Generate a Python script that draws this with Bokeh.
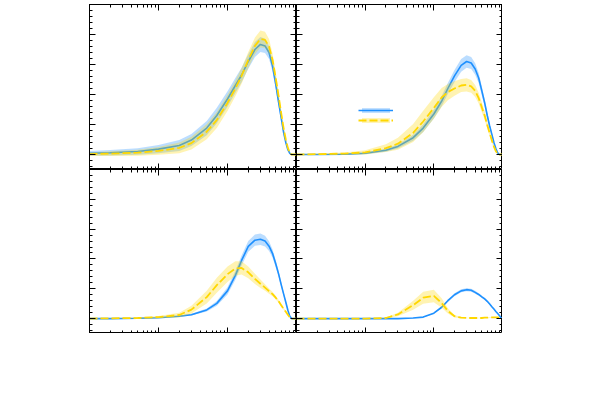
import numpy as np
from bokeh.plotting import figure
from bokeh.layouts import gridplot
from bokeh.models import FixedTicker, LogAxis, LinearAxis, Legend, LegendItem, Range1d
from bokeh.embed import file_html
from bokeh.resources import INLINE

# ---------------- data ----------------
x = [0.001, 0.002, 0.005, 0.01, 0.02, 0.03, 0.05, 0.07, 0.1, 0.13, 0.16, 0.2, 0.25,
     0.3, 0.35, 0.4, 0.45, 0.5, 0.55, 0.6, 0.65, 0.7, 0.75, 0.8, 0.85, 0.9, 0.95, 1.0]

tl_blue = [0.04, 0.06, 0.1, 0.18, 0.3, 0.48, 0.88, 1.3, 1.85, 2.3, 2.65, 3.1, 3.5,
           3.67, 3.62, 3.4, 2.95, 2.35, 1.75, 1.22, 0.74, 0.4, 0.16, 0.04, 0.0, 0.0, 0.0, 0.0]
tl_blue_err = [0.08, 0.09, 0.11, 0.14, 0.18, 0.2, 0.24, 0.26, 0.26, 0.25, 0.24, 0.24, 0.25,
               0.25, 0.24, 0.22, 0.2, 0.17, 0.14, 0.11, 0.08, 0.06, 0.04, 0.02, 0.01, 0.0, 0.0, 0.0]
tl_yellow = [0.01, 0.03, 0.06, 0.12, 0.22, 0.38, 0.76, 1.15, 1.72, 2.2, 2.62, 3.15, 3.62,
             3.85, 3.82, 3.6, 3.15, 2.55, 1.95, 1.38, 0.88, 0.5, 0.22, 0.06, 0.0, 0.0, 0.0, 0.0]
tl_yellow_err = [0.06, 0.08, 0.1, 0.13, 0.18, 0.21, 0.25, 0.27, 0.27, 0.26, 0.26, 0.27, 0.28,
                 0.28, 0.27, 0.25, 0.22, 0.19, 0.15, 0.12, 0.09, 0.06, 0.04, 0.02, 0.01, 0.0, 0.0, 0.0]

tr_blue = [0.0, 0.0, 0.01, 0.04, 0.14, 0.27, 0.56, 0.88, 1.35, 1.78, 2.2, 2.62, 2.97,
           3.1, 3.05, 2.85, 2.55, 2.12, 1.72, 1.3, 0.95, 0.67, 0.4, 0.2, 0.06, 0.0, 0.0, 0.0]
tr_blue_err = [0.01, 0.01, 0.02, 0.03, 0.05, 0.07, 0.1, 0.13, 0.15, 0.17, 0.18, 0.2, 0.21,
               0.21, 0.2, 0.19, 0.17, 0.15, 0.13, 0.11, 0.09, 0.07, 0.05, 0.03, 0.02, 0.0, 0.0, 0.0]
tr_yellow = [0.0, 0.01, 0.03, 0.07, 0.21, 0.36, 0.72, 1.1, 1.55, 1.9, 2.08, 2.2, 2.3,
             2.32, 2.27, 2.12, 1.88, 1.57, 1.3, 0.98, 0.72, 0.47, 0.26, 0.11, 0.03, 0.0, 0.0, 0.0]
tr_yellow_err = [0.01, 0.02, 0.04, 0.07, 0.13, 0.2, 0.3, 0.36, 0.36, 0.32, 0.27, 0.24, 0.22,
                 0.22, 0.21, 0.2, 0.18, 0.16, 0.14, 0.12, 0.1, 0.07, 0.05, 0.03, 0.01, 0.0, 0.0, 0.0]

bl_blue = [0.0, 0.0, 0.01, 0.03, 0.08, 0.13, 0.29, 0.51, 0.93, 1.45, 1.95, 2.42, 2.63,
           2.66, 2.6, 2.43, 2.18, 1.84, 1.5, 1.14, 0.83, 0.55, 0.28, 0.08, 0.0, 0.0, 0.0, 0.0]
bl_blue_err = [0.0, 0.0, 0.01, 0.01, 0.02, 0.03, 0.05, 0.08, 0.12, 0.15, 0.17, 0.18, 0.19,
               0.19, 0.18, 0.16, 0.14, 0.12, 0.1, 0.08, 0.06, 0.04, 0.03, 0.01, 0.0, 0.0, 0.0, 0.0]
bl_yellow = [0.0, 0.01, 0.02, 0.05, 0.12, 0.3, 0.72, 1.12, 1.49, 1.68, 1.7, 1.55, 1.33,
             1.17, 1.04, 0.92, 0.82, 0.7, 0.58, 0.45, 0.33, 0.23, 0.13, 0.04, 0.0, 0.0, 0.0, 0.0]
bl_yellow_err = [0.0, 0.01, 0.02, 0.04, 0.08, 0.13, 0.21, 0.25, 0.26, 0.24, 0.22, 0.2, 0.17,
                 0.14, 0.11, 0.09, 0.07, 0.06, 0.05, 0.04, 0.03, 0.02, 0.01, 0.01, 0.0, 0.0, 0.0, 0.0]

br_blue = [0.0, 0.0, 0.0, 0.0, 0.0, 0.0, 0.02, 0.05, 0.18, 0.38, 0.6, 0.8, 0.93,
           0.97, 0.95, 0.88, 0.81, 0.73, 0.66, 0.58, 0.49, 0.4, 0.32, 0.24, 0.17, 0.1, 0.03, 0.0]
br_blue_err = [0.0, 0.0, 0.0, 0.0, 0.0, 0.0, 0.01, 0.01, 0.02, 0.03, 0.04, 0.05, 0.05,
               0.05, 0.05, 0.05, 0.04, 0.04, 0.04, 0.03, 0.03, 0.03, 0.02, 0.02, 0.01, 0.01, 0.0, 0.0]
br_yellow = [0.0, 0.0, 0.0, 0.0, 0.02, 0.14, 0.45, 0.7, 0.76, 0.52, 0.26, 0.08, 0.03,
             0.02, 0.02, 0.02, 0.02, 0.02, 0.03, 0.03, 0.04, 0.04, 0.04, 0.04, 0.04, 0.03, 0.02, 0.0]
br_yellow_err = [0.0, 0.0, 0.0, 0.0, 0.02, 0.06, 0.15, 0.2, 0.21, 0.16, 0.09, 0.04, 0.02,
                 0.01, 0.01, 0.01, 0.01, 0.01, 0.01, 0.01, 0.01, 0.01, 0.01, 0.01, 0.01, 0.01, 0.0, 0.0]

x_major_ticks = [0.001, 0.01, 0.1, 1.0]
x_minor_ticks = [m * 10.0 ** e for e in (-3, -2, -1) for m in range(2, 10)]
y_major_ticks = [0, 1, 2, 3, 4, 5]
y_minor_ticks = [round(k * 0.2, 1) for k in range(-2, 26)]

BLUE = "#1E90FF"
GOLD = "#FFD700"


def style_axis(ax, major, minor):
    ax.ticker = FixedTicker(ticks=major, minor_ticks=minor)
    ax.major_tick_in = 6
    ax.major_tick_out = 0
    ax.minor_tick_in = 3
    ax.minor_tick_out = 0
    ax.major_label_text_alpha = 0
    ax.major_label_text_font_size = "1px"
    ax.major_label_standoff = 0
    ax.axis_line_color = "black"
    ax.major_tick_line_color = "black"
    ax.minor_tick_line_color = "black"


def panel(blue, blue_err, yel, yel_err, fw, fh, with_legend=False):
    p = figure(x_axis_type="log", x_range=Range1d(1e-3, 1.0), y_range=Range1d(-0.5, 5.0),
               frame_width=fw, frame_height=fh, min_border=0,
               toolbar_location=None, output_backend="svg")
    p.xgrid.grid_line_color = None
    p.ygrid.grid_line_color = None
    p.outline_line_color = "black"
    p.outline_line_alpha = 1
    p.add_layout(LogAxis(), "above")
    p.add_layout(LinearAxis(), "right")
    for ax in p.xaxis:
        style_axis(ax, x_major_ticks, x_minor_ticks)
    for ax in p.yaxis:
        style_axis(ax, y_major_ticks, y_minor_ticks)

    b = np.array(blue); be = np.array(blue_err)
    yv = np.array(yel); ye = np.array(yel_err)
    bb = p.varea(x=x, y1=b - be, y2=b + be, fill_color=BLUE, fill_alpha=0.3)
    bl = p.line(x=x, y=b, line_color=BLUE, line_width=1.6)
    yb = p.varea(x=x, y1=yv - ye, y2=yv + ye, fill_color=GOLD, fill_alpha=0.3)
    yl = p.line(x=x, y=yv, line_color=GOLD, line_width=1.8, line_dash="8 3")

    if with_legend:
        leg = Legend(items=[LegendItem(label=" ", renderers=[bb, bl]),
                            LegendItem(label=" ", renderers=[yb, yl])],
                     location=(62, 46), glyph_width=35, glyph_height=6,
                     label_height=6, label_standoff=0,
                     label_text_font_size="6px", spacing=4, padding=0, margin=0,
                     border_line_alpha=0, background_fill_alpha=0)
        p.add_layout(leg, "center")
    return p


p1 = panel(tl_blue, tl_blue_err, tl_yellow, tl_yellow_err, 207, 165)
p2 = panel(tr_blue, tr_blue_err, tr_yellow, tr_yellow_err, 206, 165, with_legend=True)
p3 = panel(bl_blue, bl_blue_err, bl_yellow, bl_yellow_err, 207, 164)
p4 = panel(br_blue, br_blue_err, br_yellow, br_yellow_err, 206, 164)

grid = gridplot([[p1, p2], [p3, p4]], toolbar_location=None)
grid.margin = (4, 0, 0, 89)

open("out.html", "w").write(file_html(grid, INLINE))
